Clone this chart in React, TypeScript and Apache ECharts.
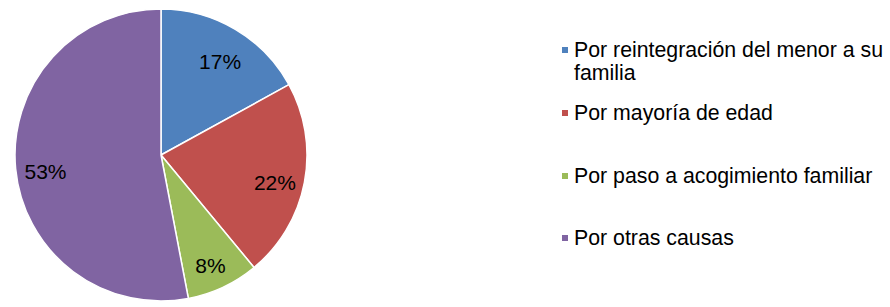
import React, { useEffect, useRef } from "react";
import * as echarts from "echarts";

const categories = [
  "Por reintegración del menor a su familia",
  "Por mayoría de edad",
  "Por paso a acogimiento familiar",
  "Por otras causas",
];
const values = [17, 22, 8, 53];
const colors = ["#4F81BD", "#C0504D", "#9BBB59", "#8064A2"];
const legendTops = [38.5, 101.5, 164.5, 226.5];

export default function App() {
  const ref = useRef<HTMLDivElement>(null);
  useEffect(() => {
    if (!ref.current) return;
    const chart = echarts.init(ref.current, null, { renderer: "svg" });
    const font = 'Arial, "Liberation Sans", sans-serif';
    const data = categories.map((name, i) => ({
      name,
      value: values[i],
      itemStyle: { color: colors[i] },
    }));
    chart.setOption({
      animation: false,
      backgroundColor: "#ffffff",
      legend: categories.map((name, i) => ({
        data: [name],
        orient: "vertical",
        left: 560,
        top: legendTops[i],
        padding: 0,
        icon: i === 0 ? "path://M0 0h8v8H0z M8 31" : "rect",
        itemWidth: 8,
        itemHeight: i === 0 ? 31 : 8,
        selectedMode: false,
        formatter: (n: string) => n.replace(" a su ", " a su\n"),
        textStyle: {
          fontFamily: font,
          fontSize: 21.3,
          color: "#000",
          lineHeight: 23,
        },
      })),
      series: [
        {
          type: "pie",
          center: [161, 155],
          radius: [0, 146],
          startAngle: 90,
          clockwise: true,
          data,
          label: { show: false },
          labelLine: { show: false },
          itemStyle: { borderColor: "#ffffff", borderWidth: 1.5 },
          emphasis: { disabled: true },
        },
        {
          type: "pie",
          center: [161, 161],
          radius: [80, 146],
          startAngle: 90,
          clockwise: true,
          silent: true,
          data: categories.map((name, i) => ({ name, value: values[i] })),
          itemStyle: { color: "transparent", borderWidth: 0 },
          label: {
            show: true,
            position: "inside",
            formatter: "{c}%",
            fontFamily: font,
            fontSize: 21,
            color: "#000",
          },
          labelLine: { show: false },
          emphasis: { disabled: true },
        },
      ],
    });
    return () => chart.dispose();
  }, []);
  return (
    <div
      ref={ref}
      style={{ position: "fixed", left: 0, top: 0, width: 890, height: 307 }}
    />
  );
}
